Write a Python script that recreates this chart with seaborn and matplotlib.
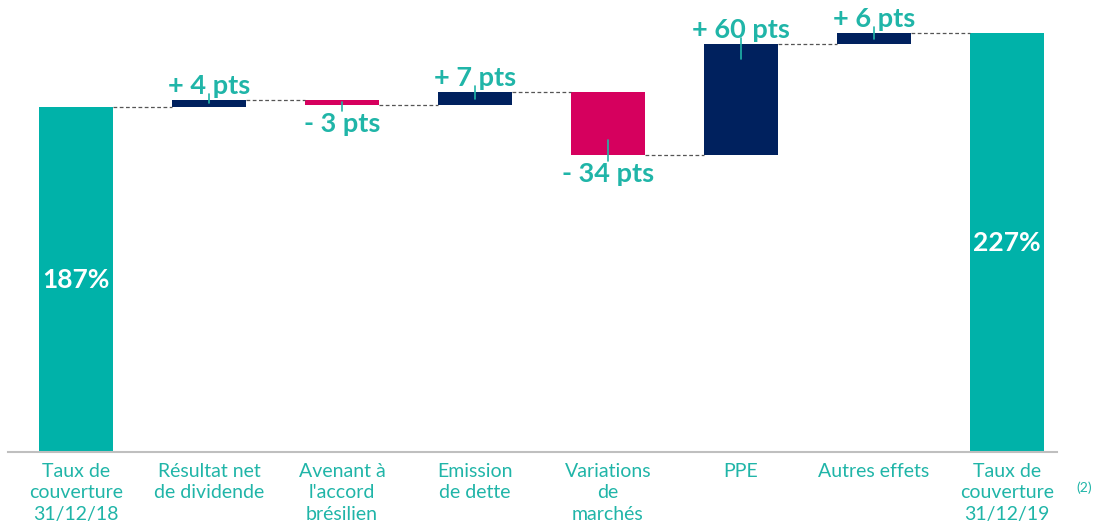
import numpy as np
import pandas as pd
import seaborn as sns
import matplotlib.pyplot as plt

# valeurs du graphique (taux de couverture, en points)
etapes = ["Taux de\ncouverture\n31/12/18", "Résultat net\nde dividende", "Avenant à\nl'accord\nbrésilien",
          "Emission\nde dette", "Variations\nde\nmarchés", "PPE", "Autres effets",
          "Taux de\ncouverture\n31/12/19"]
variations = [187, 4, -3, 7, -34, 60, 6, 227]
etiquettes = ["187%", "+ 4 pts", "- 3 pts", "+ 7 pts", "- 34 pts", "+ 60 pts", "+ 6 pts", "227%"]

TEAL = "#00B2A9"
NAVY = "#00215E"
ROSE = "#D6005E"
TXT = "#20B5A8"

# bas et hauteur de chaque barre
bas, haut = [], []
niveau = 0
for i, v in enumerate(variations):
    if i == 0 or i == len(variations) - 1:
        bas.append(0)
        haut.append(v)
        niveau = v
    else:
        bas.append(niveau if v > 0 else niveau + v)
        haut.append(abs(v))
        niveau += v
couleurs = [TEAL if i in (0, len(variations) - 1) else (NAVY if v > 0 else ROSE)
            for i, v in enumerate(variations)]

df = pd.DataFrame({"etape": etapes, "hauteur": haut, "bas": bas})

sns.set_style("white")
plt.rcParams['font.family'] = ['Lato', 'DejaVu Sans']

fig = plt.figure(figsize=(10.93, 5.23), dpi=100)
ax = fig.add_axes([8 / 1093, 71 / 523, 1049 / 1093, 452 / 523])

sns.barplot(data=df, x="etape", y="hauteur", bottom=df["bas"].values, width=0.56,
            errorbar=None, saturation=1, color=TEAL, ax=ax)
for p, c in zip(ax.patches, couleurs):
    p.set_facecolor(c)
    p.set_edgecolor("none")

ax.set_xlim(-0.511, 7.376)
ax.set_ylim(0, 245)
ppu = 1.845  # pixels par unité

# lignes de liaison en pointillés
niv = 0
for i in range(len(variations) - 1):
    niv = variations[0] if i == 0 else niv + variations[i]
    ax.plot([i + 0.28, i + 1 - 0.28], [niv, niv], ls=(0, (3, 2)), color="#555555", lw=0.9, zorder=1)

# étiquettes
for i, (v, lab) in enumerate(zip(variations, etiquettes)):
    if i in (0, len(variations) - 1):
        ax.text(i, v / 2, lab, ha="center", va="center", color="white",
                fontsize=19, fontweight="bold")
        continue
    h = abs(v)
    if v > 0:
        haut_b = bas[i] + h
        ax.plot([i, i], [haut_b - min(15, h * ppu / 2) / ppu, haut_b + 6 / ppu],
                color=TXT, lw=1.2, zorder=3)
        ax.text(i, haut_b + 2 / ppu, lab, ha="center", va="bottom", color=TXT,
                fontsize=19.5, fontweight="bold")
    else:
        b = bas[i]
        ax.plot([i, i], [b + min(15, h * ppu / 2) / ppu, b - 6 / ppu],
                color=TXT, lw=1.2, zorder=3)
        ax.text(i, b - 7 / ppu, lab, ha="center", va="top", color=TXT,
                fontsize=19.5, fontweight="bold")

ax.set_xlabel("")
ax.set_ylabel("")
ax.set_yticks([])
ax.tick_params(axis="x", length=0, pad=8)
ax.set_xticks(range(len(etapes)))
ax.set_xticklabels(etapes, color=TXT, fontsize=14, linespacing=1.3)
for s in ["top", "right", "left"]:
    ax.spines[s].set_visible(False)
ax.spines["bottom"].set_color("#BFBFBF")
ax.spines["bottom"].set_linewidth(1.5)

# renvoi (2)
ax.annotate("(2)", xy=(7, 0), xytext=(50, -25.5), textcoords="offset points",
            xycoords="data", fontsize=10, color=TXT, ha="left", va="center")

fig.savefig("out.png", dpi=100)
